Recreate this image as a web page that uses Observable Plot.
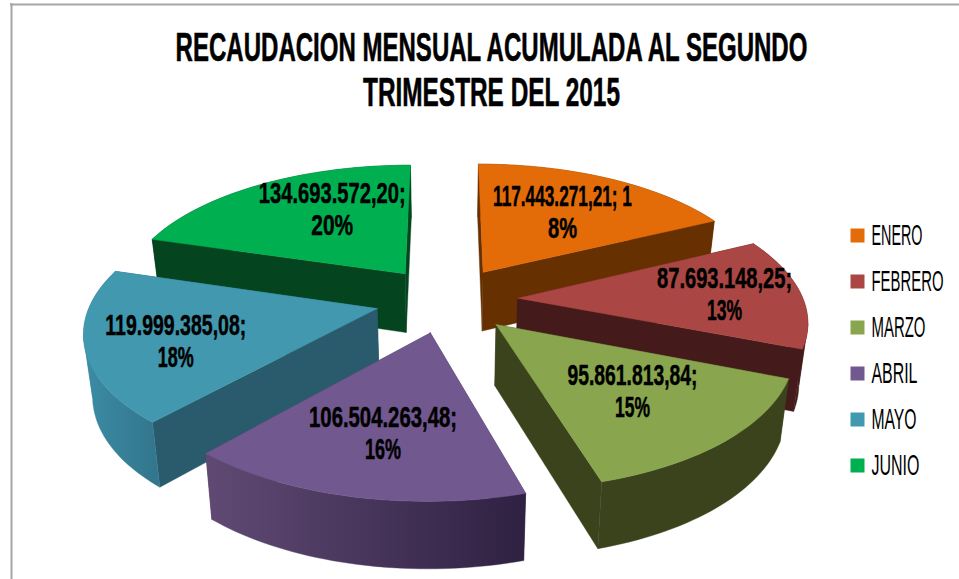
<!DOCTYPE html>
<html lang="es">
<head>
<meta charset="utf-8">
<title>Recaudación mensual</title>
<script src="https://cdn.jsdelivr.net/npm/d3@7"></script>
<script src="https://cdn.jsdelivr.net/npm/@observablehq/plot@0.6"></script>
<style>
  html, body { margin: 0; padding: 0; background: #fff; }
  svg { display: block; }
</style>
</head>
<body>
<div id="chart"></div>
<script>
const titleLines = ["RECAUDACION MENSUAL ACUMULADA AL SEGUNDO", "TRIMESTRE DEL 2015"];
const months = ["ENERO", "FEBRERO", "MARZO", "ABRIL", "MAYO", "JUNIO"];
const values = [117443271.21, 87693148.25, 95861813.84, 106504263.48, 119999385.08, 134693572.20];
const labelFirstLines = ["117.443.271,21; 1", "87.693.148,25;", "95.861.813,84;", "106.504.263,48;", "119.999.385,08;", "134.693.572,20;"];
const labelSecondLines = ["8%", "13%", "15%", "16%", "18%", "20%"];

// Styles
const topColors = ["#E36C09", "#AA4643", "#89A54E", "#71588F", "#4198AF", "#00B050"];
const faceColors = ["#663000", "#441A1A", "#3A431C", "#4A3A5C", "#295B6C", "#04451F"];
const wallLeft = ["#663000", "#441A1A", "#3A431C", "#604A74", "#3B8CA5", "#04451F"];
const wallRight = ["#663000", "#441A1A", "#3A431C", "#2F2142", "#33778E", "#04451F"];
const labelReach = [0.86, 0.977, 0.86, 0.90, 0.958, 0.883];
const labelTurn = [-0.6, 0, -0.6, 0, -2.7, 6];
const paintOrder = [5, 0, 1, 4, 2, 3];

// Camera used to turn the pie into the 3-D perspective view
const view = {cx: 446, cy: 299, rx: 285.5, ry: 132, persp: 0.15, explode: 0.25, depth: 60, depthSlope: 6, taper: 0.025};
function project(u, v, z) {
  const s = 1 / (1 - view.persp * v);
  return {
    X: view.cx + view.rx * u * s * (1 - view.taper * z),
    Y: view.cy + view.ry * v * s + z * (view.depth + view.depthSlope * v)
  };
}

const arcs = d3.pie().sort(null)(values);
const DEG = Math.PI / 180;
const marks = [];
const wallExtent = [];
const sliceMarks = [];

// Frame
marks.push(Plot.ruleX([11], {y1: 3, y2: 579, stroke: "#A6A6A6", strokeWidth: 2}));
marks.push(Plot.ruleY([4], {x1: 10, x2: 959, stroke: "#A6A6A6", strokeWidth: 2}));

paintOrder.forEach((i) => {
  const a = arcs[i];
  const mid = (a.startAngle + a.endAngle) / 2;
  const ax = view.explode * Math.sin(mid), av = -view.explode * Math.cos(mid);
  const rim = (t) => ({u: ax + Math.sin(t), v: av - Math.cos(t)});
  const month = months[i];
  const steps = Math.ceil((a.endAngle - a.startAngle) / (1.5 * DEG));
  const angles = d3.range(steps + 1).map((k) => a.startAngle + (a.endAngle - a.startAngle) * k / steps);
  const apex = {u: ax, v: av};
  const s0 = rim(a.startAngle), s1 = rim(a.endAngle);
  const rimPts = angles.map(rim);
  const rimX = rimPts.map((p) => project(p.u, p.v, 0).X);
  wallExtent[i] = d3.extent(rimX);

  // The outer wall is split where it turns away from the viewer, so it never folds over itself
  const cuts = [...new Set([0, d3.minIndex(rimX), d3.maxIndex(rimX), steps])].sort(d3.ascending);
  const wallParts = d3.pairs(cuts).map(([from, to]) => {
    const part = rimPts.slice(from, to + 1);
    return {
      color: `url(#wall-${i})`,
      key: d3.mean(part, (p) => p.v),
      corners: part.map((p) => [p, 0]).concat(part.slice().reverse().map((p) => [p, 1]))
    };
  });
  const pieces = [
    {color: faceColors[i], key: (av + s0.v) / 2, corners: [[apex, 0], [s0, 0], [s0, 1], [apex, 1]]},
    {color: faceColors[i], key: (av + s1.v) / 2, corners: [[apex, 0], [s1, 0], [s1, 1], [apex, 1]]},
    ...wallParts
  ].sort((p, q) => p.key - q.key);
  const wallRows = pieces.flatMap((p, order) =>
    p.corners.concat([p.corners[0]]).map(([pt, z]) => ({piece: order, color: p.color, ...project(pt.u, pt.v, z)})));
  sliceMarks.push(Plot.line(wallRows, {x: "X", y: "Y", z: "piece", fill: {value: "color", scale: null}, stroke: {value: "color", scale: null}, strokeWidth: 0.4}));
  const topRows = [apex].concat(rimPts).map((p) => ({month, ...project(p.u, p.v, 0)}));
  sliceMarks.push(Plot.line(topRows.concat(topRows[0]), {x: "X", y: "Y", z: "month", fill: "month", stroke: "month", strokeWidth: 0.5}));
});

// Horizontal shading of the outer walls
marks.push(() => {
  const defs = d3.create("svg:defs");
  months.forEach((m, i) => {
    const g = defs.append("linearGradient").attr("id", "wall-" + i).attr("gradientUnits", "userSpaceOnUse")
      .attr("x1", wallExtent[i][0]).attr("x2", wallExtent[i][1]).attr("y1", 0).attr("y2", 0);
    g.append("stop").attr("offset", "0%").attr("stop-color", wallLeft[i]);
    g.append("stop").attr("offset", "100%").attr("stop-color", wallRight[i]);
  });
  return defs.node();
});
marks.push(...sliceMarks);

// Data labels
const fontFamily = "'Liberation Sans Narrow','Liberation Sans',sans-serif";
const labelFont = {fontFamily, fontWeight: "bold", fontSize: 30, fill: "#000", stroke: "#000", strokeWidth: 0.5};
const labelRows = months.map((m, i) => {
  const t = (arcs[i].startAngle + arcs[i].endAngle) / 2 + labelTurn[i] * DEG;
  const r = labelReach[i];
  const p = project(r * Math.sin(t), -r * Math.cos(t), 0);
  return {first: labelFirstLines[i], second: labelSecondLines[i], X: p.X + 1, Y: p.Y};
});
marks.push(Plot.text(labelRows, {x: "X", y: "Y", text: "first", dy: -16, ...labelFont}));
marks.push(Plot.text(labelRows, {x: "X", y: "Y", text: "second", dy: 16, ...labelFont}));

// Title
const titleFont = {fontFamily, fontWeight: "bold", fontSize: 41, fill: "#000", stroke: "#000", strokeWidth: 0.6};
marks.push(Plot.text(titleLines.slice(0, 1), {x: () => 491, y: () => 47, text: (d) => d, ...titleFont}));
marks.push(Plot.text(titleLines.slice(1), {x: () => 491, y: () => 92, text: (d) => d, ...titleFont}));

// Legend
const legendRows = months.map((month, i) => ({month, X: 857, Y: 235 + 46 * i}));
marks.push(Plot.dot(legendRows, {x: "X", y: "Y", fill: "month", symbol: "square", r: 7.9}));
marks.push(Plot.text(legendRows, {x: () => 871, y: "Y", text: "month", textAnchor: "start", fontFamily, fontSize: 30, fill: "#000"}));

const plot = Plot.plot({
  width: 959,
  height: 579,
  margin: 0,
  style: {background: "#fff", overflow: "hidden"},
  x: {domain: [0, 959], range: [0, 959], axis: null},
  y: {domain: [0, 579], range: [0, 579], axis: null},
  color: {domain: months, range: topColors},
  marks
});
document.getElementById("chart").append(plot);

// Squeeze the real text to the condensed widths of the original typeface
const textWidths = new Map([
  [titleLines[0], 632], [titleLines[1], 257],
  [labelFirstLines[0], 139], [labelFirstLines[1], 135], [labelFirstLines[2], 130],
  [labelFirstLines[3], 148], [labelFirstLines[4], 141], [labelFirstLines[5], 147],
  ["8%", 29], ["13%", 35], ["15%", 35], ["16%", 36], ["18%", 36], ["20%", 42],
  ["ENERO", 51], ["FEBRERO", 72], ["MARZO", 54], ["ABRIL", 46], ["MAYO", 45], ["JUNIO", 48]
]);
d3.select(plot).selectAll("text").each(function () {
  const w = textWidths.get(this.textContent);
  if (!w) return;
  const natural = this.getComputedTextLength();
  const base = this.getAttribute("transform") || "";
  this.setAttribute("transform", `${base} scale(${w / natural},1)`);
});
</script>
</body>
</html>
